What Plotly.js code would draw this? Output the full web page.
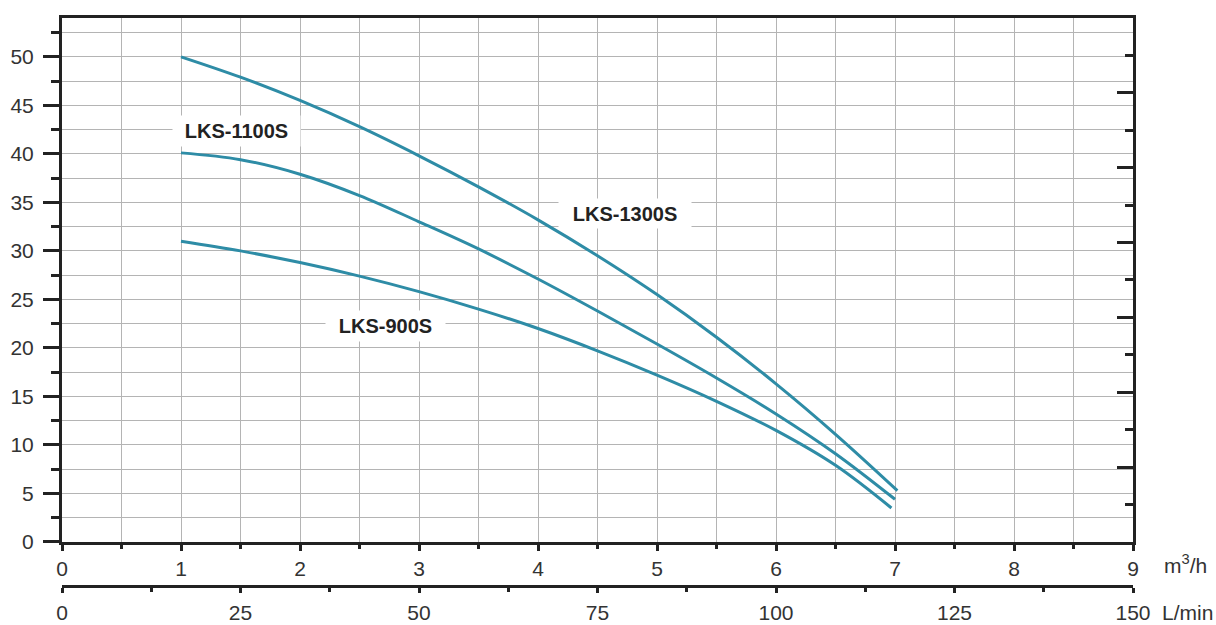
<!DOCTYPE html>
<html>
<head>
<meta charset="utf-8">
<script src="https://cdn.plot.ly/plotly-3.0.1.min.js"></script>
<style>html,body{margin:0;padding:0;background:#fff;}#chart{width:1216px;height:625px;}</style>
</head>
<body>
<div id="chart"></div>
<script>
// Flow (m³/h) and head (m)
const flow1300 = [1, 1.5, 2, 2.5, 3, 3.5, 4, 4.5, 5, 5.5, 6, 6.5, 7.02];
const head1300 = [50.0, 47.9, 45.5, 42.8, 39.8, 36.6, 33.2, 29.5, 25.5, 21.1, 16.3, 11.1, 5.3];
const flow1100 = [1, 1.5, 2, 2.5, 3, 3.5, 4, 4.5, 5, 5.5, 6, 6.5, 7.0];
const head1100 = [40.1, 39.4, 37.9, 35.7, 33.0, 30.2, 27.1, 23.8, 20.4, 16.9, 13.2, 9.1, 4.4];
const flow900 = [1, 1.5, 2, 2.5, 3, 3.5, 4, 4.5, 5, 5.5, 6, 6.5, 6.97];
const head900 = [31.0, 30.0, 28.8, 27.4, 25.8, 24.0, 22.0, 19.7, 17.2, 14.5, 11.5, 7.9, 3.5];

const seriesNames = ["LKS-1300S", "LKS-1100S", "LKS-900S"];
const labelPos = [[4.73, 33.9], [1.47, 42.4], [2.72, 22.3]];
const labelBox = [[130, 27], [125, 28], [117, 28]];

const lineColor = "#2e8ca6";
const axisColor = "#222";
const gridColor = "#b4b4b4";
const fontFam = "Liberation Sans, Arial, sans-serif";
const tickFont = {family: fontFam, size: 21, color: "#333"};

function curve(x, y, name) {
  return {x: x, y: y, name: name, type: "scatter", mode: "lines",
    line: {color: lineColor, width: 3, shape: "spline", smoothing: 1},
    xaxis: "x", yaxis: "y", hoverinfo: "skip"};
}

const traces = [
  curve(flow1300, head1300, seriesNames[0]),
  curve(flow1100, head1100, seriesNames[1]),
  curve(flow900, head900, seriesNames[2]),
  {x: [0, 150], y: [null, null], xaxis: "x2", yaxis: "y", mode: "none", type: "scatter", hoverinfo: "skip", showlegend: false},
  {x: [null, null], y: [0, 14], xaxis: "x", yaxis: "y2", mode: "none", type: "scatter", hoverinfo: "skip", showlegend: false}
];

const annotations = seriesNames.map((n, i) => ({
  x: labelPos[i][0], y: labelPos[i][1], xref: "x", yref: "y",
  text: "<b>" + n + "</b>", showarrow: false,
  font: {family: fontFam, size: 20, color: "#222"},
  bgcolor: "#ffffff", width: labelBox[i][0], height: labelBox[i][1],
  xanchor: "center", yanchor: "middle"
}));
annotations.push({x: 1, xref: "paper", xanchor: "left", xshift: 29, y: 0.0775, yref: "paper", yshift: -22,
  yanchor: "middle", text: "m<sup>3</sup>/h", showarrow: false, font: tickFont});
annotations.push({x: 1, xref: "paper", xanchor: "left", xshift: 27, y: 0, yref: "paper", yshift: -26,
  yanchor: "middle", text: "L/min", showarrow: false, font: tickFont});

const layout = {
  width: 1216, height: 625,
  margin: {l: 62, r: 83, t: 18, b: 39, pad: 0},
  paper_bgcolor: "#fff", plot_bgcolor: "#fff",
  showlegend: false,
  font: {family: fontFam},
  xaxis: {
    range: [0, 9], anchor: "y", side: "bottom",
    showline: true, linecolor: axisColor, linewidth: 3, mirror: true,
    ticks: "outside", tickcolor: axisColor, ticklen: 6, tickwidth: 3,
    dtick: 1, tick0: 0, tickfont: tickFont, ticklabelstandoff: 0,
    showgrid: true, gridcolor: gridColor, gridwidth: 1,
    minor: {dtick: 0.5, tick0: 0, ticks: "outside", ticklen: 4, tickwidth: 3, tickcolor: axisColor, showgrid: true, gridcolor: gridColor, gridwidth: 1},
    zeroline: false, fixedrange: true
  },
  xaxis2: {
    range: [0, 150], overlaying: "x", anchor: "free", position: 0, side: "bottom",
    showline: true, linecolor: axisColor, linewidth: 3,
    ticks: "outside", tickcolor: axisColor, ticklen: 5, tickwidth: 3,
    dtick: 25, tick0: 0, tickfont: tickFont, ticklabelstandoff: 2,
    showgrid: false, zeroline: false,
    minor: {dtick: 12.5, tick0: 0, ticks: "outside", ticklen: 4, tickwidth: 3, tickcolor: axisColor, showgrid: false}
  },
  yaxis: {
    range: [0, 54], domain: [0.0775, 1], anchor: "x",
    showline: true, linecolor: axisColor, linewidth: 3,
    ticks: "outside", tickcolor: axisColor, ticklen: 16, tickwidth: 3,
    dtick: 5, tick0: 0, tickfont: tickFont, ticklabelstandoff: 5,
    showgrid: true, gridcolor: gridColor, gridwidth: 1,
    minor: {dtick: 2.5, tick0: 0, ticks: "outside", ticklen: 8, tickwidth: 3, tickcolor: axisColor, showgrid: true, gridcolor: gridColor, gridwidth: 1},
    zeroline: false, fixedrange: true
  },
  yaxis2: {
    range: [0, 14], overlaying: "y", side: "right", anchor: "x",
    showline: true, linecolor: axisColor, linewidth: 3,
    ticks: "inside", tickcolor: axisColor, ticklen: 16, tickwidth: 3,
    dtick: 2, tick0: 0, showticklabels: false,
    showgrid: false, zeroline: false,
    minor: {dtick: 1, tick0: 0, ticks: "inside", ticklen: 8, tickwidth: 3, tickcolor: axisColor, showgrid: false}
  },
  annotations: annotations
};

Plotly.newPlot("chart", traces, layout, {staticPlot: true, displayModeBar: false});
</script>
</body>
</html>
